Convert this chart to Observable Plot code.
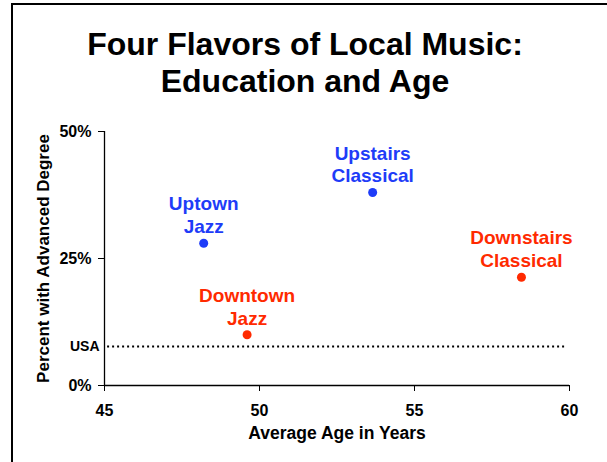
<!DOCTYPE html>
<html>
<head>
<meta charset="utf-8">
<script src="https://cdn.jsdelivr.net/npm/d3@7"></script>
<script src="https://cdn.jsdelivr.net/npm/@observablehq/plot@0.6"></script>
<style>
  html, body { margin: 0; padding: 0; background: #fff; }
  #wrap { position: relative; width: 607px; height: 462px; overflow: hidden; font-family: "Liberation Sans", Arial, Helvetica, sans-serif; }
  #frame { position: absolute; left: 11px; top: 3px; right: -5px; bottom: -5px; border-left: 2px solid #000; border-top: 2px solid #000; }
  #title { position: absolute; left: 0; top: 26px; width: 610px; text-align: center; font-weight: bold; font-size: 32px; line-height: 37px; color: #000; }
  #chart { position: absolute; left: 0; top: 0; }
</style>
</head>
<body>
<div id="wrap">
  <div id="frame"></div>
  <div id="chart"></div>
  <div id="title">Four Flavors of Local Music:<br>Education and Age</div>
</div>
<script>
// Data
const labels = ["Uptown\nJazz", "Upstairs\nClassical", "Downtown\nJazz", "Downstairs\nClassical"];
const ages = [48.2, 53.65, 49.6, 58.45];
const pctAdvanced = [28.0, 38.0, 10.0, 21.3];
const groups = ["Up", "Up", "Down", "Down"];
const usaPct = 7.7;
const xTicks = [45, 50, 55, 60];
const yTicks = [0, 25, 50];
const xLabel = "Average Age in Years";
const yLabel = "Percent with Advanced Degree";

const data = labels.map((l, i) => ({label: l, age: ages[i], pct: pctAdvanced[i], group: groups[i]}));

const BLUE = "#1e3cf8";
const RED = "#ff2a00";

const plot = Plot.plot({
  width: 607,
  height: 462,
  marginLeft: 104,
  marginRight: 38,
  marginTop: 131,
  marginBottom: 77,
  style: {fontFamily: "'Liberation Sans', Arial, Helvetica, sans-serif", fontWeight: "bold", fontSize: "16px", background: "transparent", color: "#000"},
  x: {domain: [45, 60]},
  y: {domain: [0, 50]},
  color: {domain: ["Up", "Down"], range: [BLUE, RED]},
  marks: [
    Plot.ruleY([usaPct], {x1: 45.1, x2: 59.85, stroke: "#000", strokeWidth: 2, strokeDasharray: "2,3"}),
    Plot.axisX({ticks: xTicks, tickSize: 6, tickPadding: 13, label: null, fontSize: 16, fontWeight: "bold", stroke: "#000"}),
    Plot.axisY({ticks: yTicks, tickSize: 6, tickPadding: 7, tickFormat: d => d + "%", label: null, fontSize: 16, fontWeight: "bold"}),
    Plot.axisY({ticks: [usaPct], tickSize: 0, tickPadding: 5, tickFormat: () => "USA", label: null, fontSize: 14, fontWeight: "bold"}),
    Plot.ruleX([45], {y1: 0, y2: 50, stroke: "#000", strokeWidth: 1.3}),
    Plot.ruleY([0], {x1: 45, x2: 60, stroke: "#000", strokeWidth: 1.3}),
    Plot.dot(data, {x: "age", y: "pct", r: 4.5, fill: "group", stroke: null}),
    Plot.text(data, {x: "age", y: "pct", text: "label", fill: "group", fontSize: 19, fontWeight: "bold", lineAnchor: "bottom", lineHeight: 1.2, dy: -10}),
    Plot.text([xLabel], {frameAnchor: "bottom", text: d => d, lineAnchor: "middle", textAnchor: "middle", dy: 48, fontSize: 17.5, fontWeight: "bold"}),
    Plot.text([yLabel], {frameAnchor: "left", text: d => d, rotate: -90, textAnchor: "middle", lineAnchor: "middle", dx: -61, fontSize: 17, fontWeight: "bold"})
  ]
});
document.getElementById("chart").appendChild(plot);
</script>
</body>
</html>
